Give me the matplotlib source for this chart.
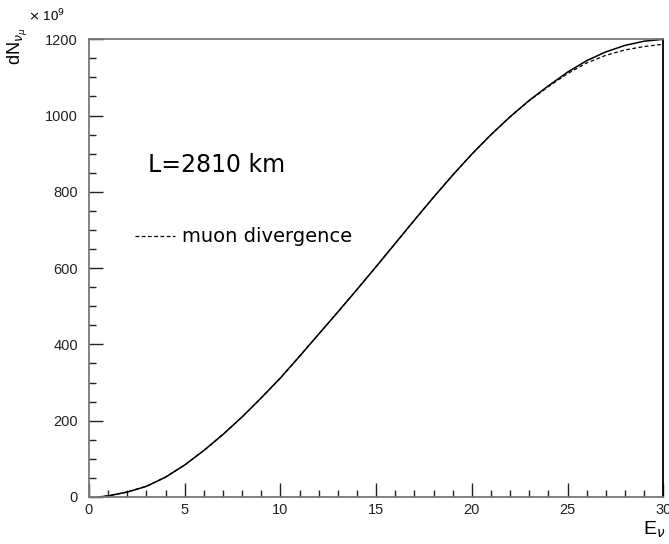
import matplotlib
matplotlib.use("Agg")
import matplotlib.pyplot as plt
from matplotlib.ticker import MultipleLocator

plt.rcParams['font.family'] = ['Liberation Sans', 'DejaVu Sans']

energy = [0.5, 1, 2, 3, 4, 5, 6, 7, 8, 9, 10, 11, 12, 13, 14, 15, 16, 17, 18, 19,
          20, 21, 22, 23, 24, 25, 26, 27, 28, 29, 30]
flux = [0, 3, 13, 28, 52, 84, 122, 164, 210, 260, 312, 369, 427, 485, 544, 604,
        665, 726, 786, 844, 899, 950, 997, 1040, 1078, 1114, 1144, 1167, 1184, 1195, 1200]
flux_div = [0, 3, 13, 28, 52, 84, 122, 164, 210, 260, 312, 369, 427, 485, 544, 604,
            665, 726, 786, 844, 899, 950, 997, 1039, 1076, 1110, 1138, 1158, 1172, 1181, 1187]

fig = plt.figure(figsize=(6.69, 5.44), dpi=100)
ax = fig.add_axes([0.133, 0.0864, 0.8585, 0.8414])

ax.plot(energy, flux, color='black', lw=1.1)
ax.plot(energy, flux_div, color='black', lw=0.9, ls=(0, (3, 2)))

ax.set_xlim(0, 30)
ax.set_ylim(0, 1200)
ax.xaxis.set_major_locator(MultipleLocator(5))
ax.xaxis.set_minor_locator(MultipleLocator(1))
ax.yaxis.set_major_locator(MultipleLocator(200))
ax.yaxis.set_minor_locator(MultipleLocator(50))
ax.tick_params(which='both', direction='in', labelsize=10.5, colors='#222222')
ax.tick_params(which='major', length=10, width=1)
ax.tick_params(which='minor', length=5, width=1)
ax.tick_params(axis='x', pad=4)
ax.tick_params(axis='y', pad=8)

for s in ['left', 'top', 'bottom']:
    ax.spines[s].set_color('#777777')
ax.spines['right'].set_color('black')
for s in ax.spines.values():
    s.set_linewidth(1.3)

fig.text(28 / 669, 1 - 16 / 544, r'$\times$ 10$^{9}$', fontsize=9.5, va='center', ha='left')
fig.text(18 / 669, 1 - 46 / 544, r'dN$_{\nu_\mu}$', fontsize=13, rotation=90, va='center', ha='center')
fig.text(643 / 669, 1 - 530 / 544, r'E$_\nu$', fontsize=14, va='center', ha='left')

fig.text(148 / 669, 1 - 165 / 544, 'L=2810 km', fontsize=17, family='DejaVu Sans',
         va='center', ha='left')
fig.lines.append(plt.Line2D([135 / 669, 175 / 669], [1 - 236 / 544, 1 - 236 / 544],
                            transform=fig.transFigure, color='black', lw=0.9, ls=(0, (3, 2))))
fig.text(182 / 669, 1 - 236 / 544, 'muon divergence', fontsize=14, family='DejaVu Sans',
         va='center', ha='left')

fig.savefig('out.png', dpi=100)
